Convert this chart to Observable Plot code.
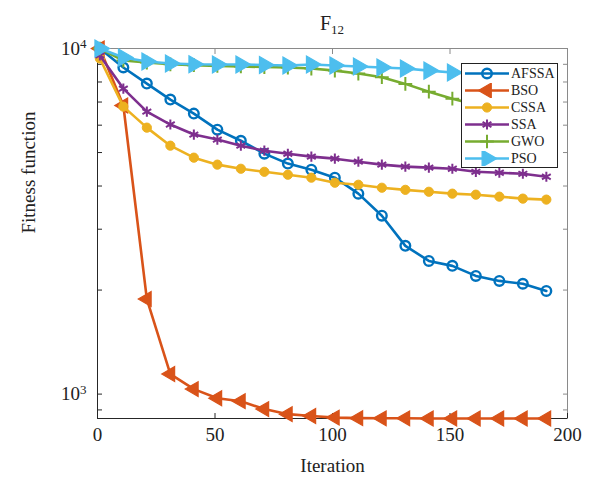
<!DOCTYPE html>
<html><head><meta charset="utf-8">
<script src="https://cdn.jsdelivr.net/npm/d3@7"></script>
<script src="https://cdn.jsdelivr.net/npm/@observablehq/plot@0.6"></script>
<style>
body{margin:0;background:#fff;}
#wrap{position:relative;width:598px;height:481px;font-family:"Liberation Serif",serif;color:#222;overflow:hidden;}
#title{position:absolute;top:13px;left:97px;width:470px;text-align:center;font-size:20px;line-height:20px;z-index:3;}
#title sub{font-size:13px;vertical-align:-4px;line-height:0;}
#chart{position:absolute;top:30px;left:0;z-index:1;}
#legend{position:absolute;left:461px;top:63px;width:95px;height:102px;border:1px solid #222;background:#fff;padding-top:0.5px;box-sizing:content-box;z-index:2;}
.row{height:17px;display:flex;align-items:center;font-size:14px;line-height:17px;}
.row svg{margin-left:3px;margin-right:2px;}
</style></head><body>
<div id="wrap"><div id="title">F<sub>12</sub></div><div id="chart"></div><div id="legend"></div></div>
<script>
const iterations = [1, 11, 21, 31, 41, 51, 61, 71, 81, 91, 101, 111, 121, 131, 141, 151, 161, 171, 181, 191];
const seriesNames = ["AFSSA", "BSO", "CSSA", "SSA", "GWO", "PSO"];
const seriesColors = ["#0072BD", "#D95319", "#EDB120", "#7E2F8E", "#77AC30", "#4DBEEE"];
const afssa = [10000, 8810, 7917, 7114, 6480, 5822, 5409, 4963, 4645, 4460, 4229, 3802, 3283, 2685, 2429, 2350, 2198, 2126, 2086, 1989];
const bso   = [10000, 6840, 1884, 1143, 1034, 973, 954, 905, 875, 864, 855, 852, 851, 851, 850, 850, 850, 850, 850, 850];
const cssa  = [9355, 6790, 5902, 5234, 4832, 4613, 4488, 4398, 4313, 4229, 4089, 4034, 3955, 3900, 3850, 3802, 3776, 3727, 3678, 3654];
const ssa   = [9550, 7655, 6567, 6026, 5636, 5450, 5234, 5062, 4960, 4865, 4800, 4705, 4613, 4551, 4521, 4488, 4398, 4370, 4340, 4255];
const gwo   = [10000, 9230, 9107, 9000, 8950, 8900, 8870, 8840, 8810, 8750, 8630, 8461, 8260, 7900, 7500, 7160, 6880, 6610, 6390, 6180];
const pso   = [10000, 9417, 9170, 9050, 9000, 8990, 8990, 8960, 8930, 8990, 8930, 8870, 8810, 8750, 8630, 8520, 8460, 8400, 8350, 8290];
const xTicks = [0, 50, 100, 150, 200];
const yLabelTicks = [1000, 10000];
const yMinorTicks = [900, 1000, 2000, 3000, 4000, 5000, 6000, 7000, 8000, 9000, 10000];
const xDomain = [0, 200];
const yDomain = [850, 10000];

const seriesValues = [afssa, bso, cssa, ssa, gwo, pso];
const table = [];
seriesNames.forEach((name, i) => iterations.forEach((it, j) => table.push({series: name, iteration: it, value: seriesValues[i][j]})));

const markerStyle = {
  AFSSA: {symbol: "circle", r: 4.8, fill: "none", strokeWidth: 2.4, rotate: 0},
  BSO:   {symbol: "triangle", r: 5.5, fill: "color", strokeWidth: 1.2, rotate: -90},
  CSSA:  {symbol: "circle", r: 4.6, fill: "color", strokeWidth: 1, rotate: 0},
  SSA:   {symbol: "asterisk", r: 4.8, fill: "none", strokeWidth: 2, rotate: 0},
  GWO:   {symbol: "plus", r: 4.5, fill: "none", strokeWidth: 2, rotate: 0},
  PSO:   {symbol: "triangle", r: 6.3, fill: "color", strokeWidth: 1.2, rotate: 90}
};
const lineWidth = 2.6;

const marks = [];
seriesNames.forEach((name, i) => {
  const c = seriesColors[i];
  const m = markerStyle[name];
  const data = table.filter(d => d.series === name);
  marks.push(Plot.line(data, {x: "iteration", y: "value", stroke: c, strokeWidth: lineWidth}));
  marks.push(Plot.dot(data, {x: "iteration", y: "value", symbol: m.symbol, r: m.r, stroke: c,
    fill: m.fill === "color" ? c : "none", strokeWidth: m.strokeWidth, rotate: m.rotate}));
});

const chart = Plot.plot({
  width: 598, height: 451,
  marginLeft: 97, marginRight: 31, marginTop: 18, marginBottom: 63,
  style: {fontFamily: "Liberation Serif", fontSize: "19px", color: "#222", background: "transparent", overflow: "visible"},
  x: {domain: xDomain},
  y: {type: "log", domain: yDomain},
  marks: [
    Plot.frame({stroke: "#8a8a8a"}),
    Plot.ruleX([xDomain[0]], {stroke: "#262626"}),
    Plot.ruleY([yDomain[0]], {stroke: "#262626"}),
    Plot.axisX({anchor: "bottom", ticks: xTicks, tickSize: 0, tickPadding: 9, label: null, fontSize: 19}),
    Plot.axisX({anchor: "bottom", ticks: xTicks, tickSize: -5, fill: "none", label: null, stroke: "#262626"}),
    Plot.axisX({anchor: "top", ticks: xTicks, tickSize: -5, fill: "none", label: null, stroke: "#8a8a8a"}),
    Plot.axisY({anchor: "left", ticks: yLabelTicks, tickSize: 0, tickPadding: 11, label: null, fontSize: 19,
      tickFormat: d => "10^" + Math.round(Math.log10(d))}),
    Plot.axisY({anchor: "left", ticks: yMinorTicks, tickSize: -5, fill: "none", label: null, stroke: "#262626"}),
    Plot.axisY({anchor: "right", ticks: yMinorTicks, tickSize: -5, fill: "none", label: null, stroke: "#8a8a8a"}),
    ...marks,
    Plot.text(["Iteration"], {frameAnchor: "bottom", dy: 47, lineAnchor: "middle", fontSize: 19, fill: "#222"}),
    Plot.text(["Fitness function"], {frameAnchor: "left", dx: -69, rotate: -90, lineAnchor: "middle", fontSize: 19, fill: "#222"})
  ]
});

chart.querySelectorAll('g[aria-label="y-axis tick label"] text').forEach(t => {
  const s = t.textContent;
  const parts = s.split("^");
  if (parts.length < 2) return;
  t.textContent = parts[0];
  const ts = document.createElementNS("http://www.w3.org/2000/svg", "tspan");
  ts.setAttribute("dy", "-0.5em");
  ts.setAttribute("font-size", "13px");
  ts.textContent = parts[1];
  t.appendChild(ts);
});
document.getElementById("chart").appendChild(chart);

// legend
const symbolTypes = {circle: d3.symbolCircle, triangle: d3.symbolTriangle, asterisk: d3.symbolAsterisk, plus: d3.symbolPlus};
const legend = document.getElementById("legend");
seriesNames.forEach((name, i) => {
  const c = seriesColors[i];
  const m = markerStyle[name];
  const path = d3.symbol().type(symbolTypes[m.symbol]).size(Math.PI * m.r * m.r)();
  const row = document.createElement("div");
  row.className = "row";
  row.innerHTML = `<svg width="44" height="15"><line x1="0" x2="44" y1="7.5" y2="7.5" stroke="${c}" stroke-width="${lineWidth}"/>` +
    `<path d="${path}" transform="translate(22,7.5) rotate(${m.rotate})" fill="${m.fill === "color" ? c : "none"}" stroke="${c}" stroke-width="${m.strokeWidth}"/></svg><span>${name}</span>`;
  legend.appendChild(row);
});
</script>
</body></html>
